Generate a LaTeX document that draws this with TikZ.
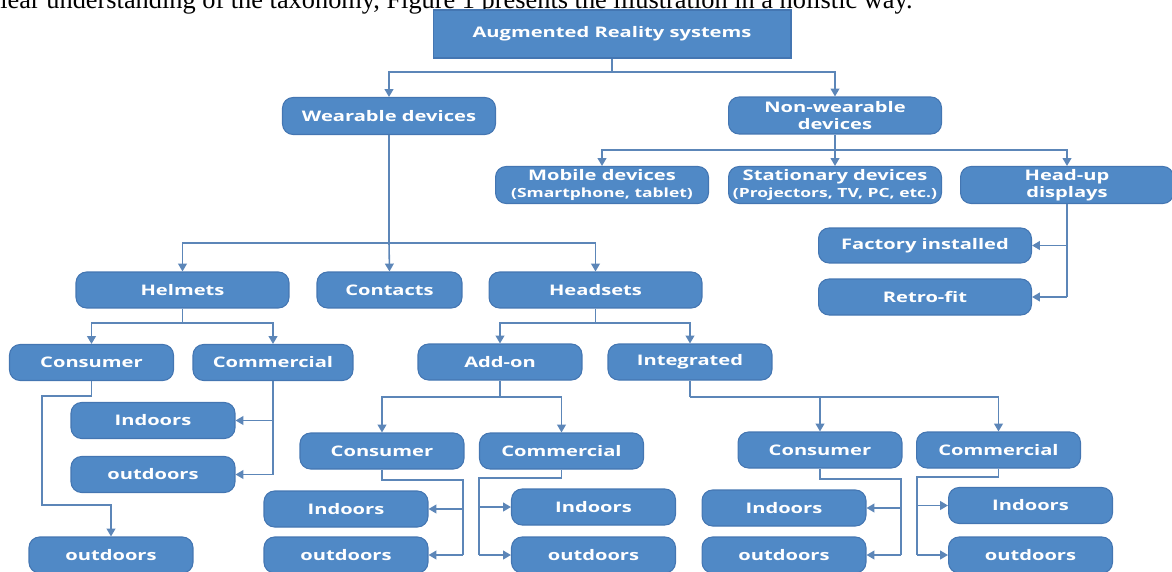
\documentclass[tikz,border=0pt]{standalone}
\usepackage{fontspec}
\setmainfont{Liberation Serif}
\newfontfamily\boxfont{Open Sans}[FakeStretch=1.38]
\usetikzlibrary{arrows.meta}

\definecolor{boxblue}{RGB}{80,137,198}
\definecolor{boxedge}{RGB}{68,118,178}
\definecolor{linkblue}{RGB}{92,134,184}

\newcommand{\boxsub}[1]{{\fontsize{7.2}{8}\selectfont #1}}

\tikzset{
  box/.style={fill=boxblue, draw=boxedge, line width=0.6pt, rounded corners=6pt,
    text=white, align=center, inner sep=1pt,
    font=\boxfont\bfseries\fontsize{8.3}{9.6}\selectfont},
  bigbox/.style={box, minimum width=4.26cm, minimum height=0.74cm},
  smallbox/.style={box, minimum width=3.28cm, minimum height=0.72cm},
  link/.style={draw=linkblue, line width=0.9pt},
  arr/.style={link, -{Triangle[length=4.5pt,width=5pt]}}
}

\begin{document}
\begin{tikzpicture}[x=0.02cm, y=-0.02cm]

        \useasboundingbox (0,0) rectangle (1172,571);
        \clip (0,0) rectangle (1172,571);

        % Text line above the figure
        \node[anchor=base west, inner sep=0, font=\fontsize{15}{17}\selectfont] (caption) at (0,9)
            {lear understanding of the taxonomy, Figure 1 presents the illustration in a holistic way.};

        % Top
        \node[box, sharp corners, minimum width=7.16cm, minimum height=0.96cm] (root) at (612,34) {Augmented Reality systems};
        \node[bigbox] (wear) at (389,116) {Wearable devices};
        \node[bigbox] (nonwear) at (835,115.5) {Non-wearable\\devices};

        % Non-wearable devices
        \node[bigbox] (mobile) at (602,185) {Mobile devices\\\boxsub{(Smartphone, tablet)}};
        \node[bigbox] (station) at (835,185) {Stationary devices\\\boxsub{(Projectors, TV, PC, etc.)}};
        \node[bigbox] (hud) at (1067,185) {Head-up\\displays};
        \node[bigbox, minimum height=0.7cm] (factory) at (925,245.5) {Factory installed};
        \node[bigbox, minimum height=0.72cm] (retro) at (925,297) {Retro-fit};

        % Wearable devices
        \node[bigbox, minimum height=0.72cm] (helmet) at (182.5,290) {Helmets};
        \node[box, minimum width=2.9cm, minimum height=0.72cm] (contact) at (389.5,290) {Contacts};
        \node[bigbox, minimum height=0.72cm] (headset) at (595.5,290) {Headsets};

        % Helmets
        \node[smallbox] (hcons) at (91.5,362.5) {Consumer};
        \node[smallbox, minimum width=3.2cm] (hcomm) at (273,362.5) {Commercial};
        \node[smallbox] (hcin) at (153,420.5) {Indoors};
        \node[smallbox] (hcout) at (153,474.5) {outdoors};
        \node[smallbox] (hconout) at (111,555) {outdoors};

        % Headsets
        \node[smallbox] (addon) at (500,362) {Add-on};
        \node[smallbox] (integ) at (690,362) {Integrated};

        % Add-on
        \node[smallbox] (acons) at (382,451) {Consumer};
        \node[smallbox] (acomm) at (561.5,451) {Commercial};
        \node[smallbox] (aconin) at (346,509) {Indoors};
        \node[smallbox] (aconout) at (346,555) {outdoors};
        \node[smallbox] (acomin) at (593.5,507) {Indoors};
        \node[smallbox] (acomout) at (593.5,555) {outdoors};

        % Integrated
        \node[smallbox] (icons) at (820,450) {Consumer};
        \node[smallbox] (icomm) at (998.5,450) {Commercial};
        \node[smallbox] (iconin) at (784,508) {Indoors};
        \node[smallbox] (iconout) at (784,555) {outdoors};
        \node[smallbox] (icomin) at (1030.5,505.5) {Indoors};
        \node[smallbox] (icomout) at (1030.5,555) {outdoors};

        % Links from the top
        \coordinate (j0) at (612,72);
        \draw[link] (root.south) -- (j0);
        \draw[arr] (j0) -| (wear.north);
        \draw[arr] (j0) -| (nonwear.north);

        \coordinate (j1) at (835,150);
        \draw[link] (nonwear.south) -- (j1);
        \draw[arr] (j1) -| (mobile.north);
        \draw[arr] (j1) -- (station.north);
        \draw[arr] (j1) -| (hud.north);

        \draw[link] (hud.south) -- (hud.south |- retro.east);
        \draw[arr] (hud.south |- factory.east) -- (factory.east);
        \draw[arr] (hud.south |- retro.east) -- (retro.east);

        \coordinate (j2) at (389,243);
        \draw[link] (wear.south) -- (j2);
        \draw[arr] (j2) -| (helmet.north);
        \draw[arr] (j2) -- (contact.north);
        \draw[arr] (j2) -| (headset.north);

        % Helmets links
        \coordinate (j3) at (182.5,323);
        \draw[link] (helmet.south) -- (j3);
        \draw[arr] (j3) -| (hcons.north);
        \draw[arr] (j3) -| (hcomm.north);

        \draw[arr] (hcons.south) -- ++(0,15) -| (42,505) -| (hconout.north);

        \draw[link] (hcomm.south) -- (hcomm.south |- hcout.east);
        \draw[arr] (hcomm.south |- hcin.east) -- (hcin.east);
        \draw[arr] (hcomm.south |- hcout.east) -- (hcout.east);

        % Headsets links
        \coordinate (j4) at (595.5,323);
        \draw[link] (headset.south) -- (j4);
        \draw[arr] (j4) -| (addon.north);
        \draw[arr] (j4) -| (integ.north);

        \coordinate (j5) at (500,397);
        \draw[link] (addon.south) -- (j5);
        \draw[arr] (j5) -| (acons.north);
        \draw[arr] (j5) -| (acomm.north);

        \coordinate (j6) at (690,397);
        \draw[link] (integ.south) -- (j6);
        \draw[arr] (j6) -| (icons.north);
        \draw[arr] (j6) -| (icomm.north);

        % Consumer / commercial links
        \coordinate (b1) at (463,480);
        \draw[link] (acons.south) |- (b1) -- (b1 |- aconout.east);
        \draw[arr] (b1 |- aconin.east) -- (aconin.east);
        \draw[arr] (b1 |- aconout.east) -- (aconout.east);

        \coordinate (b2) at (479,478);
        \draw[link] (acomm.south) |- (b2) -- (b2 |- acomout.west);
        \draw[arr] (b2 |- acomin.west) -- (acomin.west);
        \draw[arr] (b2 |- acomout.west) -- (acomout.west);

        \coordinate (b3) at (901,479);
        \draw[link] (icons.south) |- (b3) -- (b3 |- iconout.east);
        \draw[arr] (b3 |- iconin.east) -- (iconin.east);
        \draw[arr] (b3 |- iconout.east) -- (iconout.east);

        \coordinate (b4) at (917,477);
        \draw[link] (icomm.south) |- (b4) -- (b4 |- icomout.west);
        \draw[arr] (b4 |- icomin.west) -- (icomin.west);
        \draw[arr] (b4 |- icomout.west) -- (icomout.west);

\end{tikzpicture}
\end{document}
